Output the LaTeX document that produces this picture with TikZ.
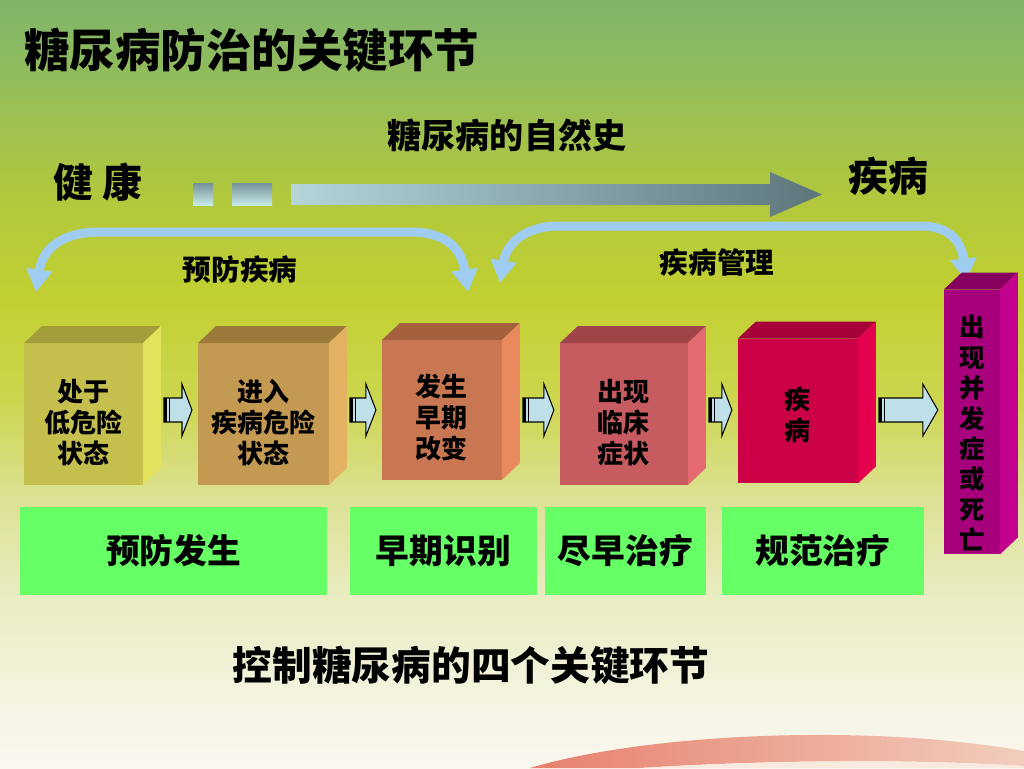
\documentclass[tikz,border=0pt]{standalone}
\usepackage{fontspec}
\setmainfont{Noto Sans CJK SC}
\usetikzlibrary{positioning,calc,arrows.meta}

\definecolor{bgtop}{HTML}{7FB46A}
\definecolor{bgolive}{HTML}{98BF56}
\definecolor{bggreen}{HTML}{B2C83C}
\definecolor{bglime}{HTML}{C2D031}
\definecolor{bgyellow}{HTML}{CCD64E}
\definecolor{bglight}{HTML}{DCE194}
\definecolor{bgpale}{HTML}{EAECC2}
\definecolor{bgcream}{HTML}{F5F3E1}
\definecolor{bgwhite}{HTML}{FAF7F0}
\definecolor{swooshl}{HTML}{E6806C}
\definecolor{swooshr}{HTML}{F2CDBD}
\definecolor{swooshin}{HTML}{F9EADF}
\definecolor{arrowlight}{HTML}{B4D6D8}
\definecolor{arrowmid}{HTML}{C6EAEA}
\definecolor{arrowdark}{HTML}{5D767C}
\definecolor{arcblue}{HTML}{9FCDF2}
\definecolor{flowblue}{HTML}{BFE0E8}
\definecolor{goalgreen}{HTML}{66FF66}
\definecolor{front1}{HTML}{C5C04E}
\definecolor{top1}{HTML}{A39E3A}
\definecolor{side1}{HTML}{E3E25C}
\definecolor{front2}{HTML}{C49A52}
\definecolor{top2}{HTML}{9C7A3A}
\definecolor{side2}{HTML}{E2B262}
\definecolor{front3}{HTML}{C97752}
\definecolor{top3}{HTML}{A5603E}
\definecolor{side3}{HTML}{E8895E}
\definecolor{front4}{HTML}{C65B60}
\definecolor{top4}{HTML}{9F4549}
\definecolor{side4}{HTML}{E26A70}
\definecolor{front5}{HTML}{CB0046}
\definecolor{top5}{HTML}{A6003A}
\definecolor{side5}{HTML}{E4004F}
\definecolor{front6}{HTML}{A8007C}
\definecolor{top6}{HTML}{87005F}
\definecolor{side6}{HTML}{C4008E}

\pgfdeclareverticalshading{slidebg}{100bp}{color(0bp)=(bgwhite); color(25bp)=(bgwhite);
  color(29.4bp)=(bgcream); color(36bp)=(bgpale); color(42.5bp)=(bglight); color(49bp)=(bgyellow);
  color(55.5bp)=(bglime); color(62bp)=(bggreen); color(68.5bp)=(bgolive); color(75bp)=(bgtop);
  color(100bp)=(bgtop)}

\begin{document}
\begin{tikzpicture}[x=0.02cm,y=-0.02cm,inner sep=0pt,outer sep=0pt,
    stage/.style={align=center,font=\bfseries\fontsize{14.8}{17.6}\selectfont},
    goal/.style={fill=goalgreen,minimum height=1.76cm,font=\bfseries\fontsize{19.2}{23}\selectfont},
    bigword/.style={font=\bfseries\fontsize{22.7}{26}\selectfont},
    midword/.style={font=\bfseries\fontsize{16.3}{19}\selectfont},
    flow/.style={fill=flowblue,draw=black,line width=0.6pt},
    bluearc/.style={draw=arcblue,line width=0.18cm,
      {Triangle[width=0.5cm,length=0.45cm]}-{Triangle[width=0.5cm,length=0.45cm]}}]
  \useasboundingbox (0,0) rectangle (1024,768);
  \shade[shading=slidebg] (0,0) rectangle (1024,768);
  % swoosh at the bottom
  \shade[left color=swooshl,right color=swooshr]
    (530,768) .. controls (640,735) and (860,722) .. (1024,751) -- (1024,766)
    .. controls (900,758) and (750,761) .. (640,768) -- cycle;
  \fill[swooshin] (640,768) .. controls (750,761) and (900,758) .. (1024,766) -- (1024,768) -- cycle;

  \node[anchor=west,font=\bfseries\fontsize{25.9}{30}\selectfont] (title) at (24,50) {糖尿病防治的关键环节};
  \node[font=\bfseries\fontsize{19.4}{23}\selectfont] (history) at (507,135) {糖尿病的自然史};
  \node[bigword] (healthy) at (98,182) {健\ 康};
  \node[bigword] (ill)     at (888,176) {疾病};
  \node[midword] (prevent) at (240,270) {预防疾病};
  \node[midword] (manage)  at (717,263) {疾病管理};

  % timeline arrow
  \shade[top color=arrowdark!70!arrowlight,bottom color=arrowmid] (193,183) rectangle (213,205);
  \shade[top color=arrowdark!70!arrowlight,bottom color=arrowmid] (232,183) rectangle (272,205);
  \shade[left color=arrowlight,middle color=arrowmid,right color=arrowdark]
    (291,184) -- (770,184) -- (770,172) -- (822,194.5) -- (770,217) -- (770,205) -- (291,205) -- cycle;

  % curved arcs
  \coordinate (pl1) at (36,292);
  \coordinate (pl2) at (468,292);
  \coordinate (pr1) at (500,283);
  \coordinate (pr2) at (966,281);
  \draw[bluearc] (pl1) .. controls (42,252) and (58,232) .. (100,232) -- (410,232)
    .. controls (450,232) and (462,252) .. (pl2);
  \draw[bluearc] (pr1) .. controls (506,246) and (522,226) .. (560,226) -- (920,226)
    .. controls (954,226) and (962,246) .. (pr2);

  % stages
  \node[fill=front1,minimum width=2.38cm,minimum height=2.84cm,
        label={[stage,yshift=-0.17cm]center:{处于\\低危险\\状态}}] (b1) at (83.5,414) {};
  \node[fill=front2,minimum width=2.62cm,minimum height=2.84cm,
        label={[stage,yshift=-0.17cm]center:{进入\\疾病危险\\状态}}] (b2) [right=1.1cm of b1] {};
  \node[fill=front3,minimum width=2.4cm,minimum height=2.8cm,
        label={[stage,yshift=-0.15cm]center:{发生\\早期\\改变}}] (b3) [right=1.06cm of b2,yshift=0.08cm] {};
  \node[fill=front4,minimum width=2.56cm,minimum height=2.84cm,
        label={[stage,yshift=-0.17cm]center:{出现\\临床\\症状}}] (b4) [right=1.16cm of b3,yshift=-0.08cm] {};
  \node[fill=front5,minimum width=2.4cm,minimum height=2.9cm,
        label={[stage,yshift=-0.08cm]center:{疾\\病}}] (b5) [right=1.0cm of b4,yshift=0.06cm] {};
  \node[fill=front6,minimum width=1.12cm,minimum height=5.3cm,
        label={[stage,font=\bfseries\fontsize{14.5}{17.3}\selectfont,yshift=-0.22cm]center:{出\\现\\并\\发\\症\\或\\死\\亡}}]
        (b6) [right=1.72cm of b5,yshift=-0.22cm] {};
  \foreach \n/\tc/\sc in {b1/top1/side1,b2/top2/side2,b3/top3/side3,b4/top4/side4,b5/top5/side5,b6/top6/side6}{
    \fill[\tc] (\n.north west) -- ++(18,-17) -- ($(\n.north east)+(18,-17)$) -- (\n.north east) -- cycle;
    \fill[\sc] (\n.north east) -- ($(\n.north east)+(18,-17)$) -- ($(\n.south east)+(18,-17)$) -- (\n.south east) -- cycle;
  }

  % block arrows between stages
  \coordinate (row) at (0,410);
  \foreach \a/\b/\hl in {b1/b2/10,b2/b3/10,b3/b4/10,b4/b5/10,b5/b6/15}{
    \coordinate (s) at ($(\a.east |- row)+(21,0)$);
    \coordinate (e) at ($(\b.west |- row)+(-6,0)$);
    \filldraw[flow] ($(s)+(0,-12)$) -- ($(e)+(-\hl,-12)$) -- ($(e)+(-\hl,-26)$) -- (e)
      -- ($(e)+(-\hl,26)$) -- ($(e)+(-\hl,12)$) -- ($(s)+(0,12)$) -- cycle;
    \fill ($(s)+(0,-12)$) rectangle ($(s)+(3,12)$);
    \fill ($(s)+(5,-12)$) rectangle ($(s)+(6.5,12)$);
  }

  % goals
  \node[goal,minimum width=6.14cm] (g1) at (173.5,551) {预防发生};
  \node[goal,minimum width=3.74cm] (g2) [right=0.46cm of g1] {早期识别};
  \node[goal,minimum width=3.22cm] (g3) [right=0.16cm of g2] {尽早治疗};
  \node[goal,minimum width=4.04cm] (g4) [right=0.32cm of g3] {规范治疗};

  \node[font=\bfseries\fontsize{22.6}{26}\selectfont] (summary) at (471,665) {控制糖尿病的四个关键环节};
\end{tikzpicture}
\end{document}
